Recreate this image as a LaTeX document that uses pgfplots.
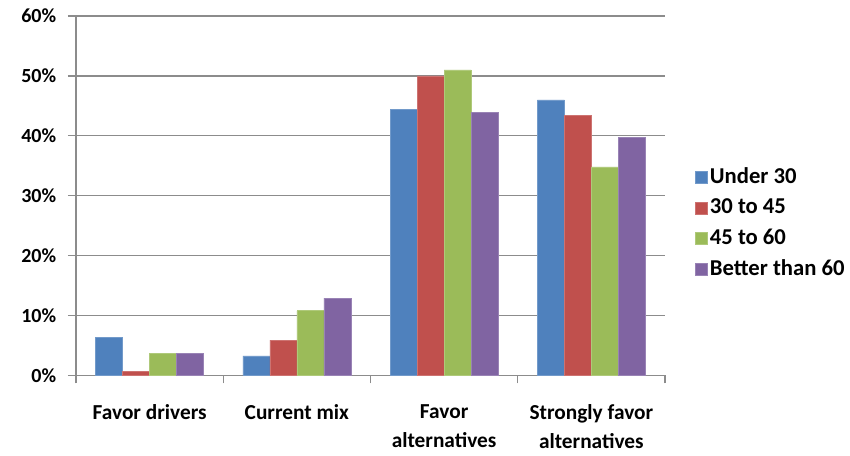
\documentclass[border=0pt]{standalone}
\usepackage{pgfplots}
\pgfplotsset{compat=1.18}
\usepackage{fontspec}
\setmainfont{Carlito}
\definecolor{cblue}{HTML}{4F81BD}
\definecolor{cred}{HTML}{C0504D}
\definecolor{cgreen}{HTML}{9BBB59}
\definecolor{cpurple}{HTML}{8064A2}
\definecolor{gridc}{HTML}{8C8C8C}
\begin{document}
\fontsize{14}{21}\selectfont\bfseries
\begin{tikzpicture}
\useasboundingbox (0,0) rectangle (637.5pt,342pt);
\begin{axis}[
  at={(57pt,60.4pt)}, anchor=south west,
  scale only axis, width=441.75pt, height=269.6pt,
  ybar=0pt, bar width=20.25pt,
  xmin=-0.5, xmax=3.5, ymin=0, ymax=60,
  axis x line*=bottom, axis y line*=left,
  axis line style={gridc, line width=1pt, -},
  xtick={0,1,2,3},
  xticklabels={{Favor drivers},{Current mix},{Favor\\alternatives},{Strongly favor\\alternatives}},
  xticklabel style={align=center, anchor=north, yshift=-11pt, font=\fontsize{16}{21.75}\selectfont\bfseries},
  major x tick style={draw=none},
  minor xtick={-0.5,0.5,1.5,2.5,3.5},
  minor x tick style={gridc, line width=1pt},
  minor tick length=6pt,
  tick align=outside,
  ytick={0,10,20,30,40,50,60},
  yticklabels={0\%,10\%,20\%,30\%,40\%,50\%,60\%},
  yticklabel style={font=\fontsize{15}{16}\selectfont\bfseries, xshift=-4pt},
  major tick length=6pt,
  y tick style={gridc, line width=1pt},
  ymajorgrids, grid style={gridc, line width=1pt},
  legend style={at={(1.05,0.424)}, anchor=west, draw=none, fill=none,
    font=\fontsize{17}{18}\selectfont\bfseries, row sep=5.2pt, inner sep=0pt},
  legend cell align=left,
  legend image code/.code={\fill[#1] (0pt,-4.5pt) rectangle (9pt,4.5pt);},
]
\addplot[fill=cblue, draw=cblue!80!white] coordinates {(0,6.4) (1,3.25) (2,44.4) (3,46.0)};
\addplot[fill=cred, draw=cred!80!white] coordinates {(0,0.7) (1,5.9) (2,50.0) (3,43.4)};
\addplot[fill=cgreen, draw=cgreen!80!white] coordinates {(0,3.7) (1,10.8) (2,51.0) (3,34.8)};
\addplot[fill=cpurple, draw=cpurple!80!white] coordinates {(0,3.7) (1,12.9) (2,43.9) (3,39.8)};
\legend{Under 30,30 to 45,45 to 60,Better than 60}
\end{axis}
\end{tikzpicture}
\end{document}
